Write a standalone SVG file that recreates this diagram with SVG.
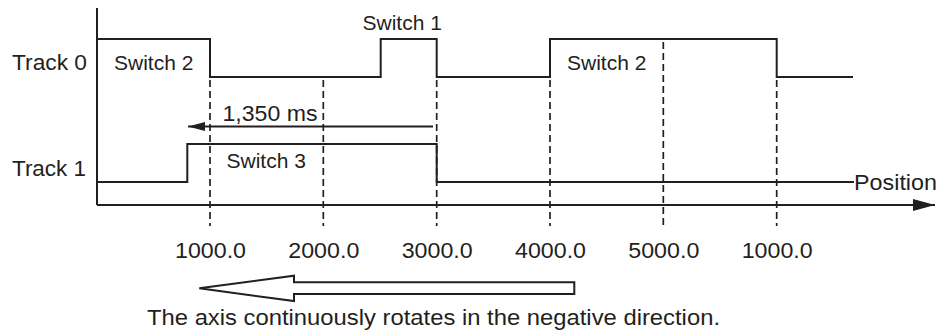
<svg xmlns="http://www.w3.org/2000/svg" width="939" height="334" viewBox="0 0 939 334">
<style>
text{font-family:"Liberation Sans",Arial,sans-serif;fill:#231f20}
.lbl{font-size:22px}
.sw{font-size:21px}
.sig{fill:none;stroke:#231f20;stroke-width:2}
.dash{fill:none;stroke:#231f20;stroke-width:1.7;stroke-dasharray:7 4}
</style>
<defs>
<marker id="ah" markerWidth="22" markerHeight="12" refX="22" refY="6" orient="auto" markerUnits="userSpaceOnUse">
<path d="M0,0 L22,6 L0,12 Z" fill="#231f20"/>
</marker>
<marker id="ah2" markerWidth="17" markerHeight="10" refX="17" refY="5" orient="auto" markerUnits="userSpaceOnUse">
<path d="M0,0.5 L17,5 L0,9.5 Z" fill="#231f20"/>
</marker>
</defs>
<g id="connectors">
<line class="dash" x1="210" y1="80" x2="210" y2="226"/>
<line class="dash" x1="323.3" y1="80" x2="323.3" y2="226"/>
<line class="dash" x1="436.7" y1="80" x2="436.7" y2="226"/>
<line class="dash" x1="550" y1="80" x2="550" y2="226"/>
<line class="dash" x1="663.3" y1="42" x2="663.3" y2="226"/>
<line class="dash" x1="776.7" y1="80" x2="776.7" y2="226"/>
<line class="sig" x1="97" y1="8" x2="97" y2="205"/>
<line class="sig" x1="97" y1="205" x2="935" y2="205" marker-end="url(#ah)"/>
<polyline id="track0-signal" class="sig" points="97,39 210,39 210,77 380.7,77 380.7,39 436.7,39 436.7,77 550,77 550,39 776.7,39 776.7,77 853,77"/>
<polyline id="track1-signal" class="sig" points="97,182 187.3,182 187.3,144 436.7,144 436.7,182 854,182"/>
<line class="sig" x1="433" y1="126.5" x2="188" y2="126.5" marker-end="url(#ah2)"/>
<path d="M574.3,282.3 L294,282.3 L294,275.7 L199.3,288.3 L294,301 L294,294 L574.3,294 Z" fill="#fff" stroke="#231f20" stroke-width="2" stroke-linejoin="miter"/>
</g>
<g id="track0-label"><text class="lbl" x="12" y="70" textLength="75" lengthAdjust="spacingAndGlyphs">Track 0</text></g>
<g id="track1-label"><text class="lbl" x="12" y="176" textLength="74" lengthAdjust="spacingAndGlyphs">Track 1</text></g>
<g id="switch2-a"><text class="sw" x="114" y="69.5">Switch 2</text></g>
<g id="switch1"><text class="sw" x="362.5" y="29.5">Switch 1</text></g>
<g id="switch2-b"><text class="sw" x="567" y="69.5">Switch 2</text></g>
<g id="switch3"><text class="sw" x="226.5" y="167.5">Switch 3</text></g>
<g id="time-label"><text class="lbl" x="222.5" y="121" textLength="95" lengthAdjust="spacingAndGlyphs">1,350 ms</text></g>
<g id="position-label"><text class="lbl" x="854" y="190" textLength="83" lengthAdjust="spacingAndGlyphs">Position</text></g>
<g id="ticks" class="lbl">
<text x="175" y="258" textLength="71" lengthAdjust="spacingAndGlyphs">1000.0</text>
<text x="288.3" y="258" textLength="71" lengthAdjust="spacingAndGlyphs">2000.0</text>
<text x="401.7" y="258" textLength="71" lengthAdjust="spacingAndGlyphs">3000.0</text>
<text x="515" y="258" textLength="71" lengthAdjust="spacingAndGlyphs">4000.0</text>
<text x="628.3" y="258" textLength="71" lengthAdjust="spacingAndGlyphs">5000.0</text>
<text x="741.7" y="258" textLength="71" lengthAdjust="spacingAndGlyphs">1000.0</text>
</g>
<g id="caption"><text class="lbl" x="147" y="325" textLength="573" lengthAdjust="spacingAndGlyphs">The axis continuously rotates in the negative direction.</text></g>
</svg>
